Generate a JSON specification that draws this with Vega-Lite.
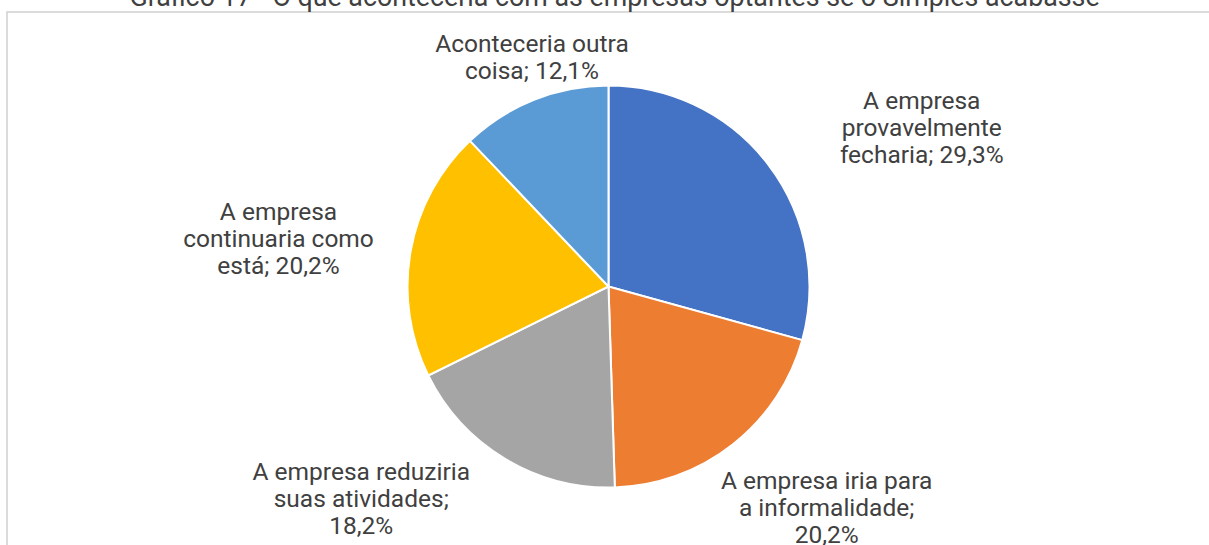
{
  "$schema": "https://vega.github.io/schema/vega-lite/v6.json",
  "width": 1203,
  "height": 549,
  "autosize": {"type": "none"},
  "padding": {"left": 7, "top": 12, "right": 0, "bottom": 0},
  "background": "white",
  "view": {"stroke": "#D0D0D0", "strokeWidth": 1.5, "fill": "white"},
  "config": {"view": {"stroke": "#D0D0D0", "strokeWidth": 1.5}},
  "title": {
    "text": "Gráfico 17 - O que aconteceria com as empresas optantes se o Simples acabasse",
    "font": "Roboto",
    "fontSize": 26.8,
    "fontWeight": "normal",
    "color": "#404040",
    "anchor": "middle",
    "dx": 6,
    "offset": 0
  },
  "data": {
    "values": [
      {"ordem": 1, "categoria": "A empresa provavelmente fecharia", "valor": 29.3, "rotulo": ["A empresa", "provavelmente", "fecharia; 29,3%"]},
      {"ordem": 2, "categoria": "A empresa iria para a informalidade", "valor": 20.2, "rotulo": ["A empresa iria para", "a informalidade;", "20,2%"]},
      {"ordem": 3, "categoria": "A empresa reduziria suas atividades", "valor": 18.2, "rotulo": ["A empresa reduziria", "suas atividades;", "18,2%"]},
      {"ordem": 4, "categoria": "A empresa continuaria como está", "valor": 20.2, "rotulo": ["A empresa", "continuaria como", "está; 20,2%"]},
      {"ordem": 5, "categoria": "Aconteceria outra coisa", "valor": 12.1, "rotulo": ["Aconteceria outra", "coisa; 12,1%"]}
    ]
  },
  "encoding": {
    "theta": {"field": "valor", "type": "quantitative", "stack": true},
    "order": {"field": "ordem", "type": "ordinal"}
  },
  "layer": [
    {
      "mark": {"type": "arc", "outerRadius": 201, "stroke": "white", "strokeWidth": 2},
      "encoding": {
        "color": {
          "field": "categoria",
          "type": "nominal",
          "scale": {
            "domain": ["A empresa provavelmente fecharia", "A empresa iria para a informalidade", "A empresa reduziria suas atividades", "A empresa continuaria como está", "Aconteceria outra coisa"],
            "range": ["#4472C4", "#ED7D31", "#A5A5A5", "#FFC000", "#5B9BD5"]
          },
          "legend": null
        }
      }
    },
    {
      "mark": {
        "type": "text",
        "radius": 300,
        "font": "Roboto",
        "fontSize": 24.5,
        "lineHeight": 27,
        "fill": "#404040",
        "align": "center",
        "baseline": "middle",
        "dx": {"expr": "datum.ordem == 1 ? 74.5 : datum.ordem == 2 ? 32.8 : datum.ordem == 3 ? -92.9 : datum.ordem == 4 ? -34.6 : 34.8"},
        "dy": {"expr": "datum.ordem == 1 ? -2.8 : datum.ordem == 2 ? -40.4 : datum.ordem == 3 ? -70.5 : datum.ordem == 4 ? -21 : 37.1"}
      },
      "encoding": {
        "text": {"field": "rotulo"}
      }
    }
  ]
}
